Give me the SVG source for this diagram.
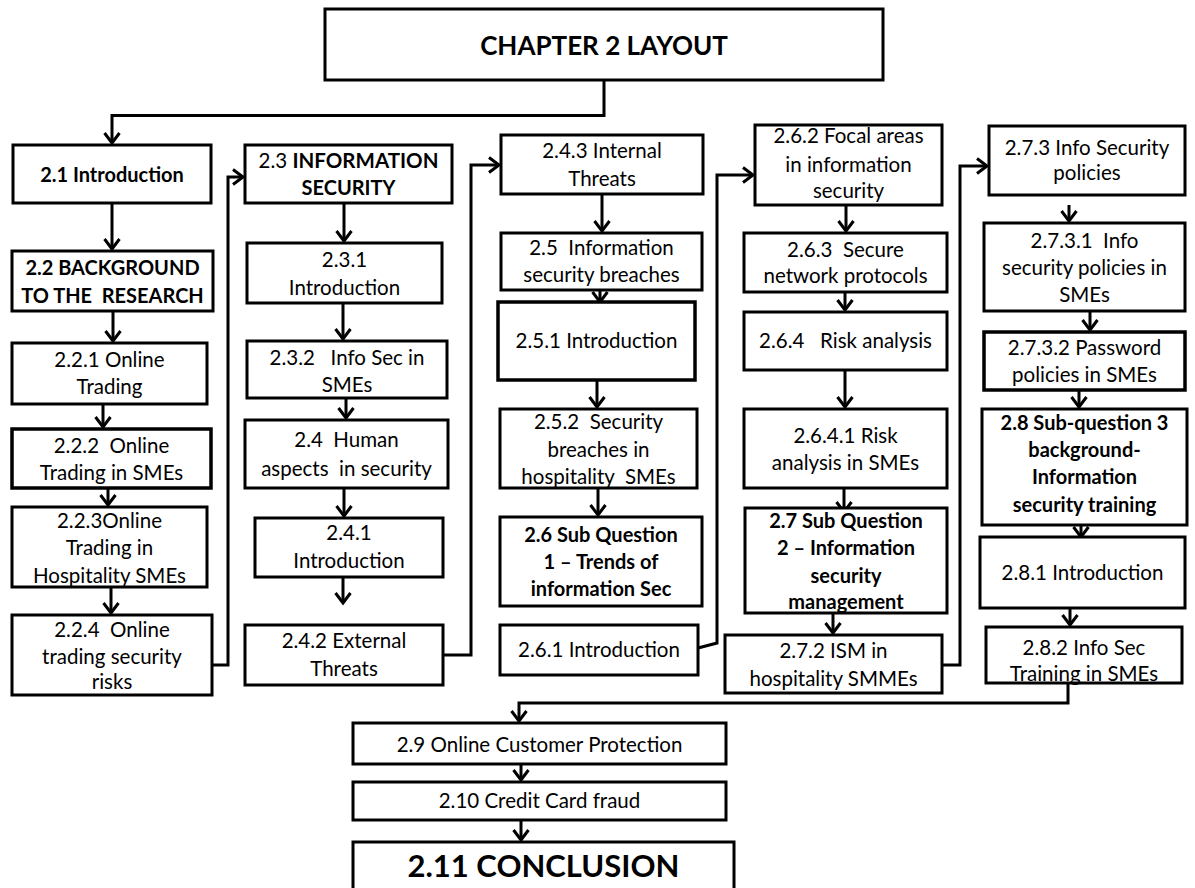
<svg xmlns="http://www.w3.org/2000/svg" width="1195" height="888" viewBox="0 0 1195 888">
<style>
.box{fill:#fff;stroke:#000;stroke-width:3}
.t{font-family:Lato,"Liberation Sans",sans-serif;font-size:20.5px;fill:#000;text-anchor:middle;white-space:pre}
.b{font-weight:bold;font-size:20px}
.c{fill:none;stroke:#000;stroke-width:3;stroke-linejoin:miter}
</style>
<defs>
<marker id="ah" markerUnits="userSpaceOnUse" markerWidth="20" markerHeight="20" refX="0" refY="0" viewBox="-14 -10 16 20" orient="auto" overflow="visible">
<path d="M-10,-7.5 L0,0 L-10,7.5" fill="none" stroke="#000" stroke-width="3"/>
</marker>
</defs>
<rect width="1195" height="888" fill="#fff"/>

<g id="connectors">
<path class="c" d="M604,80 V115.5 H112 V143" marker-end="url(#ah)"/>
<path class="c" d="M112,203 V249" marker-end="url(#ah)"/>
<path class="c" d="M113,311 V341" marker-end="url(#ah)"/>
<path class="c" d="M103,404 V427" marker-end="url(#ah)"/>
<path class="c" d="M108,488 V505" marker-end="url(#ah)"/>
<path class="c" d="M111,587 V613" marker-end="url(#ah)"/>
<path class="c" d="M212,665 H228 V177 H243" marker-end="url(#ah)"/>
<path class="c" d="M344,203 V241" marker-end="url(#ah)"/>
<path class="c" d="M343,303 V339" marker-end="url(#ah)"/>
<path class="c" d="M346,398 V418" marker-end="url(#ah)"/>
<path class="c" d="M344,488 V516" marker-end="url(#ah)"/>
<path class="c" d="M343,577 V603" marker-end="url(#ah)"/>
<path class="c" d="M443,655 H471 V165 H499" marker-end="url(#ah)"/>
<path class="c" d="M602,194 V231" marker-end="url(#ah)"/>
<path class="c" d="M600,290 V302" marker-end="url(#ah)"/>
<path class="c" d="M597,380 V407" marker-end="url(#ah)"/>
<path class="c" d="M598,488 V515" marker-end="url(#ah)"/>
<path class="c" d="M698,648 L717,643 V175 H753" marker-end="url(#ah)"/>
<path class="c" d="M846,205 V231" marker-end="url(#ah)"/>
<path class="c" d="M845,292 V310" marker-end="url(#ah)"/>
<path class="c" d="M845,370 V407" marker-end="url(#ah)"/>
<path class="c" d="M844,488 V512" marker-end="url(#ah)"/>
<path class="c" d="M833,613 V633" marker-end="url(#ah)"/>
<path class="c" d="M942,665 H960 V166 H987" marker-end="url(#ah)"/>
<path class="c" d="M1069,205 V221" marker-end="url(#ah)"/>
<path class="c" d="M1090,311 V330" marker-end="url(#ah)"/>
<path class="c" d="M1079,390 V407" marker-end="url(#ah)"/>
<path class="c" d="M1081,525 V537" marker-end="url(#ah)"/>
<path class="c" d="M1070,608 V625" marker-end="url(#ah)"/>
<path class="c" d="M1068,683 V703 H519 V721" marker-end="url(#ah)"/>
<path class="c" d="M521,764 V780" marker-end="url(#ah)"/>
<path class="c" d="M521,820 V840" marker-end="url(#ah)"/>
</g>

<g id="n-ch2"><rect class="box" x="325" y="9" width="558" height="71"/><text class="t b" x="604" y="55" style="font-size:26px">CHAPTER 2 LAYOUT</text></g>

<g id="n-2-1"><rect class="box" x="13" y="145" width="198" height="58"/><text class="t b" x="112" y="182">2.1 Introduction</text></g>
<g id="n-2-2"><rect class="box" x="12" y="251" width="201" height="60"/><text class="t b" x="112.5" y="275">2.2 BACKGROUND</text><text class="t b" x="112.5" y="303">TO THE  RESEARCH</text></g>
<g id="n-2-2-1"><rect class="box" x="12" y="343" width="195" height="61"/><text class="t" x="109.5" y="367">2.2.1 Online</text><text class="t" x="109.5" y="394">Trading</text></g>
<g id="n-2-2-2"><rect class="box" x="12" y="429" width="199" height="59" style="stroke-width:3.5"/><text class="t" x="111.5" y="453">2.2.2  Online</text><text class="t" x="111.5" y="480">Trading in SMEs</text></g>
<g id="n-2-2-3"><rect class="box" x="12" y="507" width="195" height="80"/><text class="t" x="109.5" y="528">2.2.3Online</text><text class="t" x="109.5" y="555">Trading in</text><text class="t" x="109.5" y="583">Hospitality SMEs</text></g>
<g id="n-2-2-4"><rect class="box" x="12" y="615" width="200" height="80"/><text class="t" x="112" y="637">2.2.4  Online</text><text class="t" x="112" y="664">trading security</text><text class="t" x="112" y="689">risks</text></g>

<g id="n-2-3"><rect class="box" x="245" y="145" width="207" height="58"/><text class="t" x="348.5" y="168">2.3 <tspan style="font-weight:bold">INFORMATION</tspan></text><text class="t b" x="348.5" y="195">SECURITY</text></g>
<g id="n-2-3-1"><rect class="box" x="247" y="243" width="195" height="60"/><text class="t" x="344.5" y="267">2.3.1</text><text class="t" x="344.5" y="295">Introduction</text></g>
<g id="n-2-3-2"><rect class="box" x="247" y="341" width="200" height="57"/><text class="t" x="347" y="365">2.3.2   Info Sec in</text><text class="t" x="347" y="392">SMEs</text></g>
<g id="n-2-4"><rect class="box" x="245" y="420" width="203" height="68"/><text class="t" x="346.5" y="447">2.4  Human</text><text class="t" x="346.5" y="476">aspects  in security</text></g>
<g id="n-2-4-1"><rect class="box" x="255" y="518" width="188" height="59"/><text class="t" x="349" y="540">2.4.1</text><text class="t" x="349" y="568">Introduction</text></g>
<g id="n-2-4-2"><rect class="box" x="245" y="625" width="198" height="60"/><text class="t" x="344" y="648">2.4.2 External</text><text class="t" x="344" y="676">Threats</text></g>

<g id="n-2-4-3"><rect class="box" x="501" y="135" width="202" height="59"/><text class="t" x="602" y="158">2.4.3 Internal</text><text class="t" x="602" y="186">Threats</text></g>
<g id="n-2-5"><rect class="box" x="501" y="233" width="201" height="57"/><text class="t" x="601.5" y="255">2.5  Information</text><text class="t" x="601.5" y="282">security breaches</text></g>
<g id="n-2-5-1"><rect class="box" x="498" y="302" width="197" height="78" style="stroke-width:3.5"/><text class="t" x="596.5" y="348">2.5.1 Introduction</text></g>
<g id="n-2-5-2"><rect class="box" x="500" y="409" width="197" height="79"/><text class="t" x="598.5" y="429">2.5.2  Security</text><text class="t" x="598.5" y="457">breaches in</text><text class="t" x="598.5" y="484">hospitality  SMEs</text></g>
<g id="n-2-6"><rect class="box" x="500" y="517" width="202" height="89"/><text class="t b" x="601" y="542">2.6 Sub Question</text><text class="t b" x="601" y="569">1 – Trends of</text><text class="t b" x="601" y="596">information Sec</text></g>
<g id="n-2-6-1"><rect class="box" x="500" y="625" width="198" height="50"/><text class="t" x="599" y="657">2.6.1 Introduction</text></g>

<g id="n-2-6-2"><rect class="box" x="755" y="125" width="187" height="80"/><text class="t" x="848.5" y="143">2.6.2 Focal areas</text><text class="t" x="848.5" y="172">in information</text><text class="t" x="848.5" y="198">security</text></g>
<g id="n-2-6-3"><rect class="box" x="744" y="233" width="203" height="59"/><text class="t" x="845.5" y="257">2.6.3  Secure</text><text class="t" x="845.5" y="283">network protocols</text></g>
<g id="n-2-6-4"><rect class="box" x="744" y="312" width="203" height="58"/><text class="t" x="845.5" y="348">2.6.4   Risk analysis</text></g>
<g id="n-2-6-4-1"><rect class="box" x="744" y="409" width="203" height="79"/><text class="t" x="845.5" y="443">2.6.4.1 Risk</text><text class="t" x="845.5" y="470">analysis in SMEs</text></g>
<g id="n-2-7"><rect class="box" x="745" y="508" width="202" height="105"/><text class="t b" x="846" y="528">2.7 Sub Question</text><text class="t b" x="846" y="555">2 – Information</text><text class="t b" x="846" y="583">security</text><text class="t b" x="846" y="609">management</text></g>
<g id="n-2-7-2"><rect class="box" x="725" y="635" width="217" height="58"/><text class="t" x="833.5" y="658">2.7.2 ISM in</text><text class="t" x="833.5" y="686">hospitality SMMEs</text></g>

<g id="n-2-7-3"><rect class="box" x="989" y="126" width="196" height="69"/><text class="t" x="1087" y="155">2.7.3 Info Security</text><text class="t" x="1087" y="180">policies</text></g>
<g id="n-2-7-3-1"><rect class="box" x="984" y="223" width="201" height="88"/><text class="t" x="1084.5" y="248">2.7.3.1  Info</text><text class="t" x="1084.5" y="275">security policies in</text><text class="t" x="1084.5" y="302">SMEs</text></g>
<g id="n-2-7-3-2"><rect class="box" x="984" y="332" width="201" height="58" style="stroke-width:3.5"/><text class="t" x="1084.5" y="355">2.7.3.2 Password</text><text class="t" x="1084.5" y="382">policies in SMEs</text></g>
<g id="n-2-8"><rect class="box" x="982" y="409" width="205" height="116"/><text class="t b" x="1084.5" y="430">2.8 Sub-question 3</text><text class="t b" x="1084.5" y="457">background-</text><text class="t b" x="1084.5" y="484">Information</text><text class="t b" x="1084.5" y="512">security training</text></g>
<g id="n-2-8-1"><rect class="box" x="980" y="537" width="205" height="71"/><text class="t" x="1082.5" y="580">2.8.1 Introduction</text></g>
<g id="n-2-8-2"><rect class="box" x="986" y="627" width="196" height="56"/><text class="t" x="1084" y="655">2.8.2 Info Sec</text><text class="t" x="1084" y="681">Training in SMEs</text></g>

<g id="n-2-9"><rect class="box" x="353" y="723" width="373" height="41"/><text class="t" x="539.5" y="752">2.9 Online Customer Protection</text></g>
<g id="n-2-10"><rect class="box" x="353" y="782" width="373" height="38"/><text class="t" x="539.5" y="808">2.10 Credit Card fraud</text></g>
<g id="n-2-11"><rect class="box" x="353" y="842" width="381" height="60"/><text class="t b" x="543.5" y="877" style="font-size:31px">2.11 CONCLUSION</text></g>
</svg>
